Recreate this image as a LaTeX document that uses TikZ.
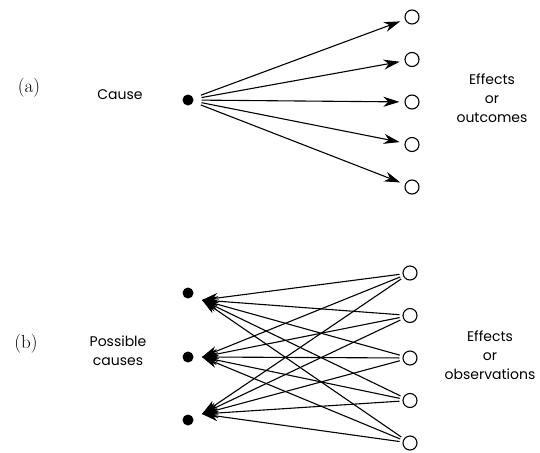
\documentclass[tikz,border=0pt]{standalone}
\usepackage{fontspec}
\setsansfont{Poppins}
\usetikzlibrary{arrows.meta,calc,positioning}

\tikzset{
  src/.style={circle,fill,inner sep=0pt,minimum size=11pt},
  obs/.style={circle,draw,line width=1.1pt,inner sep=0pt,minimum size=14pt},
  link/.style={line width=1.1pt,-{Stealth[length=16pt,width=10pt,inset=5pt]}},
  lbl/.style={font=\sffamily\fontsize{14}{19}\selectfont,align=center},
  tag/.style={font=\fontsize{19}{22}\selectfont}
}

\begin{document}
\begin{tikzpicture}[x=1pt,y=-1pt]
    \useasboundingbox (0,0) rectangle (540,452);
    % (a) one cause, several effects
    \node[tag] (ta) at (29,88) {(a)};
    \node[lbl] (tc) at (120,95) {Cause};
    \node[src] (c) at (188,100) {};
    \node[obs] (e1) at (412,17) {};
    \node[obs] (e2) at ($(e1)+(0,42.5)$) {};
    \node[obs] (e3) at ($(e2)+(0,42.5)$) {};
    \node[obs] (e4) at ($(e3)+(0,42.5)$) {};
    \node[obs] (e5) at ($(e4)+(0,42.5)$) {};
    \foreach \n in {1,...,5}
    \draw[link,shorten <=8pt,shorten >=5pt] (c) -- (e\n);
    \node[lbl] (te) at (492,98) {Effects\\or\\outcomes};
    % (b) several causes, several observations
    \node[tag] (tb) at (26,344) {(b)};
    \node[lbl] (tp) at (118,351) {Possible\\causes};
    \node[src] (p1) at (188,293) {};
    \node[src] (p2) at ($(p1)+(0,64)$) {};
    \node[src] (p3) at ($(p2)+(0,63)$) {};
    \coordinate (h1) at (202,300);
    \coordinate (h2) at (202,357);
    \coordinate (h3) at (202,414);
    \node[obs] (o1) at (410,273) {};
    \node[obs] (o2) at ($(o1)+(0,42.5)$) {};
    \node[obs] (o3) at ($(o2)+(0,42.5)$) {};
    \node[obs] (o4) at ($(o3)+(0,42.5)$) {};
    \node[obs] (o5) at ($(o4)+(0,42.5)$) {};
    \foreach \m in {1,2,3}
    \foreach \n in {1,...,5}
    \draw[link,shorten <=3pt] (o\n) -- (h\m);
    \node[lbl] (to) at (490,355) {Effects\\or\\observations};
\end{tikzpicture}
\end{document}
